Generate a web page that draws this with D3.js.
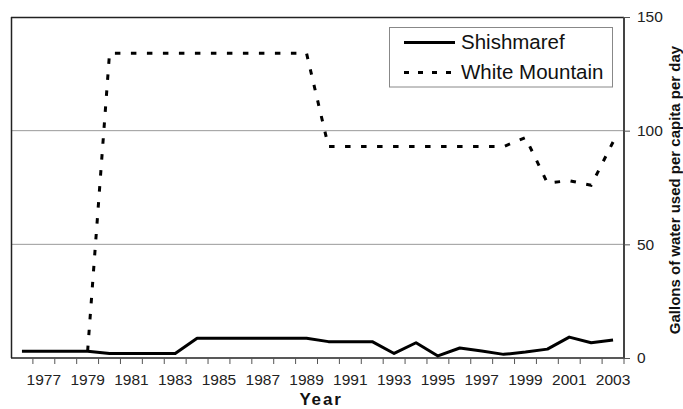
<!DOCTYPE html>
<html><head><meta charset="utf-8">
<script src="https://cdn.jsdelivr.net/npm/d3@7"></script>
<style>
html,body{margin:0;padding:0;background:#fff;}
svg{display:block;font-family:Arial,"Liberation Sans",sans-serif;}
</style></head>
<body>
<svg id="c" width="683" height="409"></svg>
<script>
const years = [1976,1977,1978,1979,1980,1981,1982,1983,1984,1985,1986,1987,1988,1989,1990,1991,1992,1993,1994,1995,1996,1997,1998,1999,2000,2001,2002,2003];
const shishmaref = [3,3,3,3,2,2,2,2,8.7,8.7,8.7,8.7,8.7,8.7,7.2,7.2,7.2,2,6.7,0.9,4.4,3.1,1.6,2.6,3.9,9.2,6.7,7.9];
const whiteMountainYears = [1979,1980,1981,1982,1983,1984,1985,1986,1987,1988,1989,1990,1991,1992,1993,1994,1995,1996,1997,1998,1999,2000,2001,2002,2003];
const whiteMountain = [3,134,134,134,134,134,134,134,134,134,134,93,93,93,93,93,93,93,93,93,97,77,78,76,95];
const yTicks = [0,50,100,150];
const xLabels = years.filter(y => y % 2 === 1);
const seriesNames = ["Shishmaref","White Mountain"];

const svg = d3.select("#c");
const L = 11, R = 624, T = 17, B = 358;
const x = d3.scaleBand().domain(years).range([L, R]).padding(0);
const y = d3.scaleLinear().domain([0,150]).range([B, T]);
const cx = d => x(d) + x.bandwidth()/2;

// gridlines
svg.append("g").selectAll("line").data([50,100]).join("line")
  .attr("x1", L).attr("x2", R).attr("y1", d=>y(d)).attr("y2", d=>y(d))
  .attr("stroke", "#999").attr("stroke-width", 1);

// frame
svg.append("line").attr("x1",L).attr("x2",R).attr("y1",T+0.5).attr("y2",T+0.5).attr("stroke","#222").attr("stroke-width",1.5);
svg.append("line").attr("x1",L+0.5).attr("x2",L+0.5).attr("y1",T).attr("y2",B).attr("stroke","#222").attr("stroke-width",1.5);

// bottom axis
const xAxis = d3.axisBottom(x).tickSize(0).tickFormat(d => xLabels.includes(d) ? d : "");
const gx = svg.append("g").attr("transform", `translate(0,${B})`).call(xAxis);
gx.select(".domain").remove();
gx.selectAll("text").attr("font-size", 15.5).attr("fill", "#222").attr("dy", "1.58em").attr("font-family","Arial, 'Liberation Sans', sans-serif");
svg.append("line").attr("x1",L).attr("x2",R).attr("y1",B).attr("y2",B).attr("stroke","#222").attr("stroke-width",1.5);
svg.append("g").selectAll("line").data(years.slice(1).concat([null])).join("line")
  .attr("x1", d => d===null ? R : x(d)).attr("x2", d => d===null ? R : x(d))
  .attr("y1", B).attr("y2", B+6).attr("stroke","#555").attr("stroke-width",1);

// right axis
const yAxis = d3.axisRight(y).tickValues(yTicks).tickSize(6).tickPadding(7);
const gy = svg.append("g").attr("transform", `translate(${R},0)`).call(yAxis);
gy.select(".domain").attr("stroke","#444").attr("stroke-width",2).attr("d", `M0,${T}V${B}`);
gy.selectAll(".tick line").attr("stroke","#555");
gy.selectAll("text").attr("font-size", 15.5).attr("fill","#222").attr("font-family","Arial, 'Liberation Sans', sans-serif");

// lines
const lineS = d3.line().x((d,i)=>cx(years[i])).y(d=>y(d));
svg.append("path").datum(shishmaref).attr("d", lineS)
  .attr("fill","none").attr("stroke","#000").attr("stroke-width",3).attr("stroke-linejoin","round");
const lineW = d3.line().x((d,i)=>cx(whiteMountainYears[i])).y(d=>y(d));
svg.append("path").datum(whiteMountain).attr("d", lineW)
  .attr("fill","none").attr("stroke","#000").attr("stroke-width",3).attr("stroke-dasharray","5.5,10.5");

// axis titles
svg.append("text").attr("x", 321).attr("y", 405).attr("text-anchor","middle")
  .attr("font-size", 17).attr("font-weight","bold").attr("letter-spacing","1.8px").attr("fill","#111").text("Year");
svg.append("text").attr("transform","translate(680,190) rotate(-90)").attr("text-anchor","middle")
  .attr("font-size", 15).attr("font-weight","bold").attr("fill","#111").text("Gallons of water used per capita per day");

// legend
const lg = svg.append("g");
lg.append("rect").attr("x",389.5).attr("y",27.5).attr("width",223).attr("height",59.5)
  .attr("fill","#fff").attr("stroke","#888").attr("stroke-width",1);
const rows = lg.selectAll("g.row").data(seriesNames).join("g").attr("class","row")
  .attr("transform",(d,i)=>`translate(0,${i*30})`);
rows.append("line").attr("x1",404).attr("x2",455).attr("y1",42.5).attr("y2",42.5)
  .attr("stroke","#000").attr("stroke-width",3)
  .attr("stroke-dasharray",(d,i)=> i===0 ? null : "5,9");
rows.append("text").attr("x",461).attr("y",49).attr("font-size",20.5).attr("fill","#111").text(d=>d);
</script>
</body></html>
